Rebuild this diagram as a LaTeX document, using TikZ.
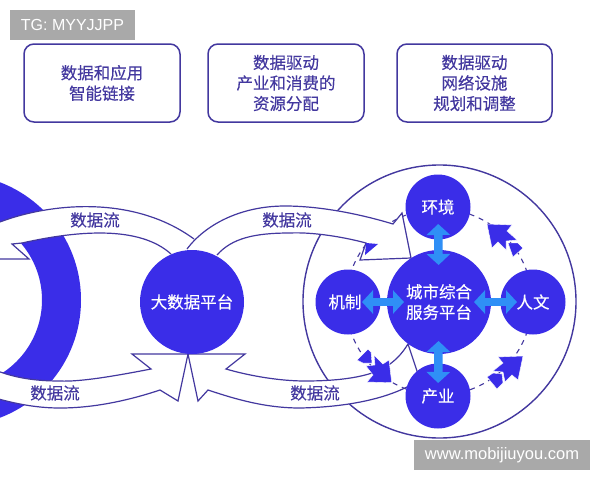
\documentclass[tikz,border=0pt]{standalone}
\usepackage{fontspec}
\setmainfont{Noto Sans CJK SC}[FakeBold=0.25]
\newfontfamily\latinlabel{Liberation Sans}
\usetikzlibrary{arrows.meta}
\definecolor{nodeblue}{HTML}{3A2DE8}
\definecolor{linepurple}{HTML}{43389F}
\definecolor{lightblue}{HTML}{2F8FF6}
\definecolor{graybox}{HTML}{A9A9A9}
\tikzset{
  cjk/.style={font=\fontsize{16.5}{20.5}\selectfont,align=center,inner sep=0pt},
  topbox/.style={cjk,draw=linepurple,line width=1.5pt,rounded corners=10pt,minimum height=78pt,text=linepurple},
  ball/.style={cjk,circle,fill=nodeblue,text=white,minimum size=65pt},
  bigball/.style={ball,minimum size=104pt},
  flowlabel/.style={cjk,text=linepurple},
  band/.style={fill=white,draw=linepurple,line width=1.2pt,line join=miter},
  head/.style={fill=nodeblue,draw=white,line width=0.4pt},
  dbl/.style={draw=lightblue,line width=8.5pt,
    {Triangle[length=11pt,width=23pt,fill=lightblue]}-{Triangle[length=11pt,width=23pt,fill=lightblue]}},
  dashring/.style={draw=linepurple,line width=1.1pt,dash pattern=on 5pt off 5pt},
  tag/.style={fill=graybox,text=white,font=\latinlabel,inner sep=0pt}
}
\begin{document}
\begin{tikzpicture}[x=1pt,y=-1pt]
\useasboundingbox (0,0) rectangle (600,480);
\clip (0,0) rectangle (600,480);
\fill[white] (0,0) rectangle (600,480);
% big ring at left
\fill[nodeblue,even odd rule] (-45,300) circle (126pt) (-45,300) circle (87pt);
% outer circle
\draw[linepurple,line width=1.4pt] (439.5,301.5) circle (136.5pt);
% top-left band
\fill[white] (-10,226) .. controls (40,204) and (130,192) .. (194,239) -- (171,254)
  .. controls (140,226) and (80,230) .. (22,243) -- (12,244) -- (29,259) -- (-10,259) -- cycle;
\draw[band,fill=none] (-10,226) .. controls (40,204) and (130,192) .. (194,239)
  (171,254) .. controls (140,226) and (80,230) .. (22,243) -- (12,244) -- (29,259) -- (-10,259);
% bottom bands
\draw[band] (132,354) -- (151,369) .. controls (115,376) and (80,382) .. (60,381)
  .. controls (35,381) and (15,378) .. (-5,370) -- (-5,398)
  .. controls (20,405) and (40,408) .. (60,408) .. controls (95,408) and (130,400) .. (160,390)
  -- (178,401) -- (188,354) -- cycle;
\draw[band] (245,354) -- (226,369) .. controls (250,376) and (280,381) .. (305,381)
  .. controls (335,381) and (372,378) .. (390,364) .. controls (398,358) and (403,352) .. (408,344)
  -- (420,380) -- (407,387) .. controls (385,398) and (350,407) .. (300,408)
  .. controls (265,408) and (235,399) .. (208,390) -- (198,401) -- (188,354) -- cycle;
% dashed ring
\coordinate (ringcentre) at (439,302);
\draw[dashring] (ringcentre) circle (93pt);
% top-right band
\fill[white] (187,249) .. controls (205,225) and (240,206) .. (285,206)
  .. controls (320,206) and (360,214) .. (393,224) -- (402,213) -- (411,258) -- (360,260)
  -- (366,243) .. controls (340,236) and (310,232) .. (290,233)
  .. controls (255,233) and (232,238) .. (217,255) -- cycle;
\draw[band,fill=none] (187,249) .. controls (205,225) and (240,206) .. (285,206)
  .. controls (320,206) and (360,214) .. (393,224) -- (402,213) -- (411,258) -- (360,260)
  -- (366,243) .. controls (340,236) and (310,232) .. (290,233)
  .. controls (255,233) and (232,238) .. (217,255);
\fill[nodeblue] (366,243) -- (378,244) -- (365,255) -- cycle;
% blue arrowheads on the dashed ring
\filldraw[head] (391.7,382.7) -- (389,360) -- (383,364) -- (374,355) -- (375,365) -- (366,366) -- (373,375) -- (367,382) -- cycle;
\filldraw[head] (357,360) -- (368,349) -- (371,352) -- (372,363) -- (363,363) -- cycle;
\filldraw[head] (523,356) -- (498,357) -- (503,363) -- (493,371) -- (503,372) -- (505,382) -- (512,375) -- (518,380) -- cycle;
\filldraw[head] (487,377) -- (497,389) -- (503,383) -- (502,374) -- (493,373) -- cycle;
\filldraw[head] (487,224) -- (512,225) -- (507,231) -- (517,240) -- (506,241) -- (506,250) -- (498,242) -- (492,248) -- cycle;
\filldraw[head] (508,243) -- (518,243) -- (523,248) -- (513,257) -- cycle;
% balls
\node[bigball] (platform) at (192,302) {大数据平台};
\node[bigball] (hub) at (439,302) {城市综合\\服务平台};
\node[ball] (env) at (438,207) {环境};
\node[ball] (mech) at (348,302) {机制\kern6pt};
\node[ball] (human) at (533,302) {人文};
\node[ball] (industry) at (438,396) {产业};
% double arrows
\draw[dbl,shorten <=17pt,shorten >=37pt] (env.center) -- (hub.center);
\draw[dbl,shorten <=39pt,shorten >=13pt] (hub.center) -- (industry.center);
\draw[dbl,shorten <=14pt,shorten >=35pt] (mech.center) -- (hub.center);
\draw[dbl,shorten <=35pt,shorten >=16pt] (hub.center) -- (human.center);
% flow labels
\node[flowlabel] (flowa) at (95,220) {数据流};
\node[flowlabel] (flowb) at (287,220) {数据流};
\node[flowlabel] (flowc) at (55,393) {数据流};
\node[flowlabel] (flowd) at (315,393) {数据流};
% top boxes
\node[topbox,minimum width=156pt] (boxa) at (102,83) {数据和应用\\智能链接};
\node[topbox,minimum width=156pt] (boxb) at (286,83) {数据驱动\\产业和消费的\\资源分配};
\node[topbox,minimum width=155pt] (boxc) at (474.5,83) {数据驱动\\网络设施\\规划和调整};
% grey tags
\node[tag,minimum width=125pt,minimum height=30pt,font=\latinlabel\fontsize{16}{18}\selectfont] (tga) at (72.5,25) {TG: MYYJJPP};
\node[tag,minimum width=176pt,minimum height=30pt,font=\latinlabel\fontsize{16.5}{18}\selectfont] (tgb) at (502,455) {www.mobijiuyou.com};
\end{tikzpicture}
\end{document}
